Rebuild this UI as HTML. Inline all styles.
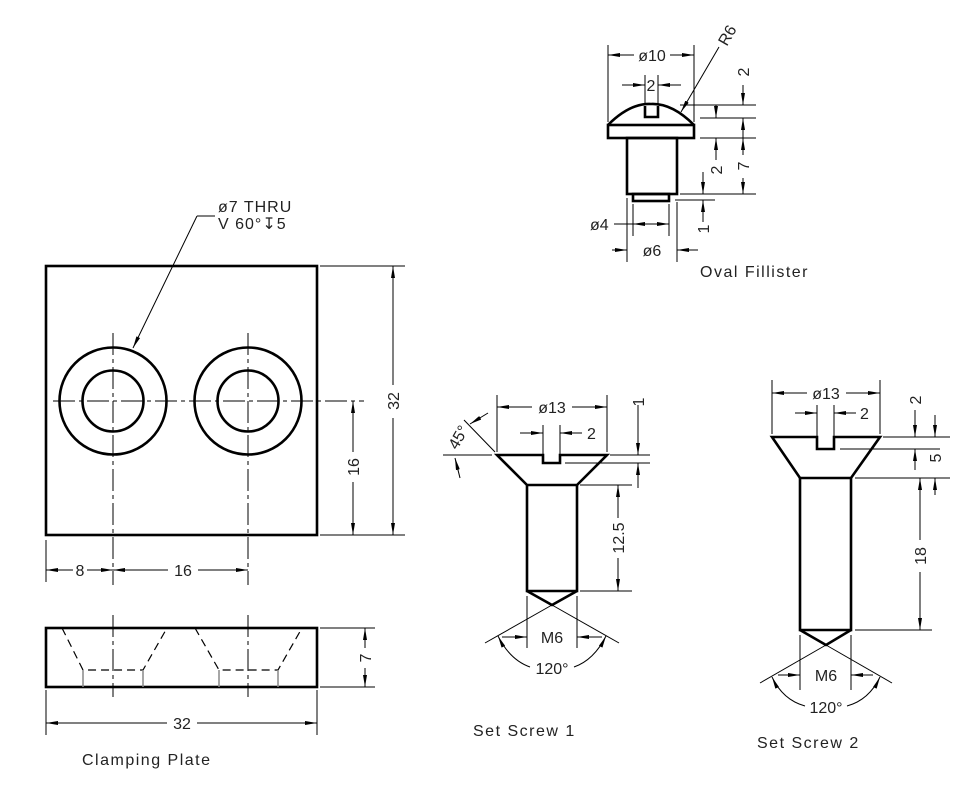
<!DOCTYPE html>
<html><head><meta charset="utf-8"><style>
html,body{margin:0;padding:0;background:#fff}
svg{display:block}
text{font-family:"Liberation Sans",sans-serif;font-size:16px;fill:#222}
.t{stroke:#000;stroke-width:2.6;fill:none}
.n{stroke:#000;stroke-width:1;fill:none}
.c{stroke:#000;stroke-width:1;fill:none;stroke-dasharray:22 4 4 4}
.h{stroke:#000;stroke-width:1.2;fill:none;stroke-dasharray:8 5}
.g{stroke:#888;stroke-width:1.5;fill:none}
</style></head><body>
<svg width="973" height="804" viewBox="0 0 973 804" xmlns="http://www.w3.org/2000/svg">
<defs>
<marker id="a" viewBox="0 0 12 4" refX="12" refY="2" markerWidth="12" markerHeight="4" markerUnits="userSpaceOnUse" orient="auto-start-reverse"><path d="M0,0 L12,2 L0,4z" fill="#000"/></marker>
</defs>

<!-- ===== Clamping plate top view ===== -->
<rect x="46" y="266" width="271" height="269" class="t"/>
<circle cx="113" cy="401" r="53.5" class="t"/>
<circle cx="113" cy="401" r="30.5" class="t"/>
<circle cx="248" cy="401" r="53.5" class="t"/>
<circle cx="248" cy="401" r="30.5" class="t"/>
<line x1="53" y1="401" x2="364" y2="401" class="c"/>
<line x1="113" y1="333" x2="113" y2="585" class="c"/>
<line x1="248" y1="333" x2="248" y2="585" class="c"/>
<polyline points="197,216 215,216" class="n"/>
<line x1="197" y1="216" x2="133" y2="348" class="n" marker-end="url(#a)"/>
<text x="218" y="212" letter-spacing="1">ø7  THRU</text>
<text x="218" y="229" letter-spacing="1">V  60°↧5</text>
<line x1="320" y1="266" x2="405" y2="266" class="n"/>
<line x1="320" y1="535" x2="405" y2="535" class="n"/>
<line x1="393" y1="266" x2="393" y2="385" class="n" marker-start="url(#a)"/>
<line x1="393" y1="418" x2="393" y2="535" class="n" marker-end="url(#a)"/>
<text transform="translate(399,401) rotate(-90)" text-anchor="middle">32</text>
<line x1="353" y1="401" x2="353" y2="452" class="n" marker-start="url(#a)"/>
<line x1="353" y1="482" x2="353" y2="535" class="n" marker-end="url(#a)"/>
<text transform="translate(359,467) rotate(-90)" text-anchor="middle">16</text>
<line x1="46" y1="540" x2="46" y2="582" class="n"/>
<line x1="46" y1="570" x2="73" y2="570" class="n" marker-start="url(#a)"/>
<line x1="87" y1="570" x2="113" y2="570" class="n" marker-end="url(#a)"/>
<text x="80" y="576" text-anchor="middle">8</text>
<line x1="113" y1="570" x2="168" y2="570" class="n" marker-start="url(#a)"/>
<line x1="198" y1="570" x2="248" y2="570" class="n" marker-end="url(#a)"/>
<text x="183" y="576" text-anchor="middle">16</text>

<!-- ===== Clamping plate side view ===== -->
<rect x="46" y="628" width="271" height="59" class="t"/>
<line x1="113" y1="615" x2="113" y2="697" class="c"/>
<line x1="248" y1="615" x2="248" y2="697" class="c"/>
<polyline points="62,628 83,670 143,670 167,628" class="h"/>
<polyline points="195,628 219,670 278,670 302,628" class="h"/>
<line x1="83" y1="670" x2="83" y2="687" class="g"/>
<line x1="143" y1="670" x2="143" y2="687" class="g"/>
<line x1="219" y1="670" x2="219" y2="687" class="g"/>
<line x1="278" y1="670" x2="278" y2="687" class="g"/>
<line x1="320" y1="628" x2="375" y2="628" class="n"/>
<line x1="320" y1="687" x2="375" y2="687" class="n"/>
<line x1="365" y1="628" x2="365" y2="648" class="n" marker-start="url(#a)"/>
<line x1="365" y1="668" x2="365" y2="687" class="n" marker-end="url(#a)"/>
<text transform="translate(371,658) rotate(-90)" text-anchor="middle">7</text>
<line x1="46" y1="690" x2="46" y2="735" class="n"/>
<line x1="317" y1="690" x2="317" y2="735" class="n"/>
<line x1="46" y1="723" x2="167" y2="723" class="n" marker-start="url(#a)"/>
<line x1="197" y1="723" x2="317" y2="723" class="n" marker-end="url(#a)"/>
<text x="182" y="729" text-anchor="middle">32</text>
<text x="82" y="765" letter-spacing="1.5">Clamping  Plate</text>

<!-- ===== Oval fillister ===== -->
<path d="M608,125 Q630,103 651,104 Q672,103 694,125" class="t"/>
<path d="M645,106 L645,117 L658,117 L658,106" class="t" fill="#fff"/>
<rect x="608" y="125" width="86" height="13" class="t"/>
<rect x="627" y="138" width="50" height="56" class="t"/>
<rect x="633" y="194" width="36" height="7" class="t"/>
<line x1="608" y1="45" x2="608" y2="122" class="n"/>
<line x1="694" y1="45" x2="694" y2="122" class="n"/>
<line x1="608" y1="55" x2="634" y2="55" class="n" marker-start="url(#a)"/>
<line x1="670" y1="55" x2="694" y2="55" class="n" marker-end="url(#a)"/>
<text x="652" y="61" text-anchor="middle">ø10</text>
<line x1="645" y1="75" x2="645" y2="104" class="n"/>
<line x1="658" y1="75" x2="658" y2="104" class="n"/>
<line x1="622" y1="85" x2="645" y2="85" class="n" marker-end="url(#a)"/>
<line x1="681" y1="85" x2="658" y2="85" class="n" marker-end="url(#a)"/>
<text x="651" y="91" text-anchor="middle">2</text>
<line x1="719" y1="47" x2="681" y2="112" class="n" marker-end="url(#a)"/>
<text transform="translate(732,38) rotate(-60)" text-anchor="middle">R6</text>
<line x1="680" y1="105" x2="756" y2="105" class="n"/>
<line x1="700" y1="118" x2="756" y2="118" class="n"/>
<line x1="700" y1="138" x2="756" y2="138" class="n"/>
<line x1="680" y1="194" x2="756" y2="194" class="n"/>
<line x1="675" y1="200" x2="715" y2="200" class="n"/>
<line x1="743" y1="85" x2="743" y2="105" class="n" marker-end="url(#a)"/>
<line x1="743" y1="138" x2="743" y2="118" class="n" marker-end="url(#a)"/>
<text transform="translate(749,72) rotate(-90)" text-anchor="middle">2</text>
<line x1="743" y1="138" x2="743" y2="155" class="n" marker-start="url(#a)"/>
<line x1="743" y1="178" x2="743" y2="194" class="n" marker-end="url(#a)"/>
<text transform="translate(749,166) rotate(-90)" text-anchor="middle">7</text>
<line x1="716" y1="105" x2="716" y2="118" class="n" marker-end="url(#a)"/>
<line x1="716" y1="160" x2="716" y2="138" class="n" marker-end="url(#a)"/>
<text transform="translate(722,170) rotate(-90)" text-anchor="middle">2</text>
<line x1="703" y1="172" x2="703" y2="194" class="n" marker-end="url(#a)"/>
<line x1="703" y1="222" x2="703" y2="200" class="n" marker-end="url(#a)"/>
<text transform="translate(709,229) rotate(-90)" text-anchor="middle">1</text>
<line x1="633" y1="204" x2="633" y2="236" class="n"/>
<line x1="669" y1="204" x2="669" y2="236" class="n"/>
<line x1="614" y1="224" x2="633" y2="224" class="n"/>
<line x1="633" y1="224" x2="669" y2="224" class="n" marker-start="url(#a)" marker-end="url(#a)"/>
<text x="590" y="230">ø4</text>
<line x1="627" y1="198" x2="627" y2="262" class="n"/>
<line x1="677" y1="202" x2="677" y2="262" class="n"/>
<line x1="612" y1="250" x2="627" y2="250" class="n" marker-end="url(#a)"/>
<line x1="698" y1="250" x2="677" y2="250" class="n" marker-end="url(#a)"/>
<text x="652" y="256" text-anchor="middle">ø6</text>
<text x="700" y="277" letter-spacing="1.5">Oval  Fillister</text>

<!-- ===== Set screw 1 ===== -->
<path d="M497,455 L543,455 L543,463 L560,463 L560,455 L607,455 L577,485 L527,485 Z" class="t"/>
<path d="M527,485 L527,591 L577,591 L577,485" class="t"/>
<path d="M527,591 L552,605 L577,591" class="t"/>
<line x1="497" y1="395" x2="497" y2="452" class="n"/>
<line x1="607" y1="395" x2="607" y2="452" class="n"/>
<line x1="497" y1="407" x2="532" y2="407" class="n" marker-start="url(#a)"/>
<line x1="572" y1="407" x2="607" y2="407" class="n" marker-end="url(#a)"/>
<text x="552" y="413" text-anchor="middle">ø13</text>
<line x1="543" y1="425" x2="543" y2="455" class="n"/>
<line x1="560" y1="425" x2="560" y2="455" class="n"/>
<line x1="520" y1="433" x2="543" y2="433" class="n" marker-end="url(#a)"/>
<line x1="582" y1="433" x2="560" y2="433" class="n" marker-end="url(#a)"/>
<text x="587" y="439">2</text>
<line x1="610" y1="455" x2="650" y2="455" class="n"/>
<line x1="565" y1="463" x2="650" y2="463" class="n"/>
<line x1="638" y1="405" x2="638" y2="455" class="n" marker-end="url(#a)"/>
<line x1="638" y1="488" x2="638" y2="463" class="n" marker-end="url(#a)"/>
<text transform="translate(644,402) rotate(-90)" text-anchor="middle">1</text>
<line x1="580" y1="485" x2="632" y2="485" class="n"/>
<line x1="580" y1="591" x2="632" y2="591" class="n"/>
<line x1="618" y1="485" x2="618" y2="518" class="n" marker-start="url(#a)"/>
<line x1="618" y1="558" x2="618" y2="591" class="n" marker-end="url(#a)"/>
<text transform="translate(624,538) rotate(-90)" text-anchor="middle">12.5</text>
<!-- 45 -->
<line x1="443" y1="455" x2="492" y2="455" class="n"/>
<line x1="495" y1="452" x2="464" y2="420" class="n"/>
<line x1="488" y1="413" x2="470" y2="424" class="n" marker-end="url(#a)"/>
<line x1="460" y1="478" x2="455" y2="458" class="n" marker-end="url(#a)"/>
<text transform="translate(463,440) rotate(-60)" text-anchor="middle">45°</text>
<line x1="527" y1="596" x2="527" y2="648" class="n"/>
<line x1="577" y1="596" x2="577" y2="648" class="n"/>
<line x1="502" y1="637" x2="527" y2="637" class="n" marker-end="url(#a)"/>
<line x1="602" y1="637" x2="577" y2="637" class="n" marker-end="url(#a)"/>
<text x="552" y="643" text-anchor="middle">M6</text>
<line x1="552" y1="605" x2="485" y2="643" class="n"/>
<line x1="552" y1="605" x2="619" y2="643" class="n"/>
<path d="M498,636 Q510,660 530,667" class="n" marker-start="url(#a)"/>
<path d="M606,636 Q594,660 574,667" class="n" marker-start="url(#a)"/>
<text x="552" y="674" text-anchor="middle">120°</text>
<text x="473" y="736" letter-spacing="1.5">Set  Screw  1</text>

<!-- ===== Set screw 2 ===== -->
<path d="M772,437 L817,437 L817,449 L834,449 L834,437 L880,437 L851,478 L800,478 Z" class="t"/>
<path d="M800,478 L800,630 L851,630 L851,478" class="t"/>
<path d="M800,630 L826,645 L851,630" class="t"/>
<line x1="772" y1="380" x2="772" y2="434" class="n"/>
<line x1="880" y1="380" x2="880" y2="434" class="n"/>
<line x1="772" y1="393" x2="807" y2="393" class="n" marker-start="url(#a)"/>
<line x1="846" y1="393" x2="880" y2="393" class="n" marker-end="url(#a)"/>
<text x="826" y="399" text-anchor="middle">ø13</text>
<line x1="817" y1="405" x2="817" y2="436" class="n"/>
<line x1="834" y1="405" x2="834" y2="436" class="n"/>
<line x1="795" y1="413" x2="817" y2="413" class="n" marker-end="url(#a)"/>
<line x1="856" y1="413" x2="834" y2="413" class="n" marker-end="url(#a)"/>
<text x="860" y="419">2</text>
<line x1="883" y1="437" x2="950" y2="437" class="n"/>
<line x1="840" y1="449" x2="940" y2="449" class="n"/>
<line x1="855" y1="478" x2="950" y2="478" class="n"/>
<line x1="855" y1="630" x2="932" y2="630" class="n"/>
<line x1="915" y1="410" x2="915" y2="437" class="n" marker-end="url(#a)"/>
<line x1="915" y1="470" x2="915" y2="449" class="n" marker-end="url(#a)"/>
<text transform="translate(921,400) rotate(-90)" text-anchor="middle">2</text>
<line x1="935" y1="415" x2="935" y2="437" class="n" marker-end="url(#a)"/>
<line x1="935" y1="495" x2="935" y2="478" class="n" marker-end="url(#a)"/>
<text transform="translate(941,458) rotate(-90)" text-anchor="middle">5</text>
<line x1="920" y1="478" x2="920" y2="540" class="n" marker-start="url(#a)"/>
<line x1="920" y1="572" x2="920" y2="630" class="n" marker-end="url(#a)"/>
<text transform="translate(926,556) rotate(-90)" text-anchor="middle">18</text>
<line x1="800" y1="635" x2="800" y2="690" class="n"/>
<line x1="851" y1="635" x2="851" y2="690" class="n"/>
<line x1="778" y1="675" x2="800" y2="675" class="n" marker-end="url(#a)"/>
<line x1="873" y1="675" x2="851" y2="675" class="n" marker-end="url(#a)"/>
<text x="826" y="681" text-anchor="middle">M6</text>
<line x1="826" y1="645" x2="760" y2="683" class="n"/>
<line x1="826" y1="645" x2="892" y2="683" class="n"/>
<path d="M772,677 Q783,700 805,706" class="n" marker-start="url(#a)"/>
<path d="M880,677 Q869,700 847,706" class="n" marker-start="url(#a)"/>
<text x="826" y="713" text-anchor="middle">120°</text>
<text x="757" y="748" letter-spacing="1.5">Set  Screw  2</text>
</svg>
</body></html>
